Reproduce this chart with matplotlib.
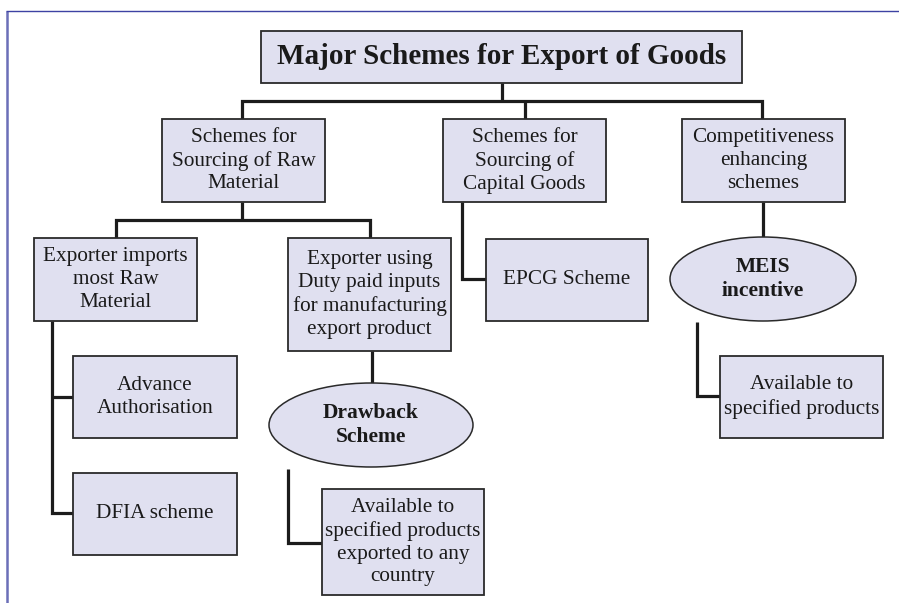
import matplotlib.pyplot as plt
from matplotlib.patches import Rectangle, Ellipse

# text of each node
title = "Major Schemes for Export of Goods"
level2 = ["Schemes for\nSourcing of Raw\nMaterial",
          "Schemes for\nSourcing of\nCapital Goods",
          "Competitiveness\nenhancing\nschemes"]
level3 = ["Exporter imports\nmost Raw\nMaterial",
          "Exporter using\nDuty paid inputs\nfor manufacturing\nexport product",
          "EPCG Scheme"]
ellipses = ["Drawback\nScheme", "MEIS\nincentive"]
leaves = ["Advance\nAuthorisation", "DFIA scheme",
          "Available to\nspecified products\nexported to any\ncountry",
          "Available to\nspecified products"]

FILL = "#e0e0f0"
EDGE = "#2a2a2a"
LINE = "#1c1c1c"
FONT = ["Liberation Serif", "DejaVu Serif"]

fig = plt.figure(figsize=(8.99, 6.03), dpi=100)
ax = fig.add_axes([0, 0, 1, 1])
ax.set_xlim(0, 899)
ax.set_ylim(603, 0)
ax.axis("off")


def box(x0, y0, x1, y1, text, size=15.3, bold=False):
    ax.add_patch(Rectangle((x0, y0), x1 - x0, y1 - y0, facecolor=FILL,
                           edgecolor=EDGE, lw=1.3, zorder=2))
    ax.text((x0 + x1) / 2, (y0 + y1) / 2, text, ha="center", va="center",
            fontsize=size, family=FONT, fontweight="bold" if bold else "normal",
            linespacing=1.28, color="#1a1a1a", zorder=3)


def oval(cx, cy, w, h, text):
    ax.add_patch(Ellipse((cx, cy), w, h, facecolor=FILL, edgecolor=EDGE,
                         lw=1.1, zorder=2))
    ax.text(cx, cy, text, ha="center", va="center", fontsize=15.5,
            family=FONT, fontweight="bold", linespacing=1.2,
            color="#1a1a1a", zorder=3)


def line(xs, ys):
    ax.plot(xs, ys, color=LINE, lw=2.3, solid_capstyle="butt",
            solid_joinstyle="miter", zorder=1)


# page frame
ax.plot([7, 7], [11, 603], color="#6b6fb8", lw=1.8, solid_capstyle="butt")
ax.plot([6, 899], [11, 11], color="#3d42a3", lw=1.0, solid_capstyle="butt")

# connectors
line([502, 502], [83, 101])
line([242, 242, 762, 762], [119, 101, 101, 119])
line([525, 525], [101, 119])
line([242, 242], [202, 220])
line([116, 116, 370, 370], [238, 220, 220, 238])
line([462, 462, 486], [202, 279, 279])
line([763, 763], [202, 238])
line([372, 372], [351, 384])
line([52, 52, 73], [321, 513, 513])
line([52, 73], [397, 397])
line([288, 288, 322], [469, 543, 543])
line([697, 697, 720], [322, 396, 396])

# nodes
box(261, 31, 742, 83, title, size=21.0, bold=True)
box(162, 119, 325, 202, level2[0])
box(443, 119, 606, 202, level2[1])
box(682, 119, 845, 202, level2[2])
box(34, 238, 197, 321, level3[0])
box(288, 238, 451, 351, level3[1])
box(486, 239, 648, 321, level3[2])
oval(371, 425, 204, 84, ellipses[0])
oval(763, 279, 186, 84, ellipses[1])
box(73, 356, 237, 438, leaves[0])
box(73, 473, 237, 555, leaves[1])
box(322, 489, 484, 595, leaves[2])
box(720, 356, 883, 438, leaves[3])

fig.savefig("out.png", dpi=100)
